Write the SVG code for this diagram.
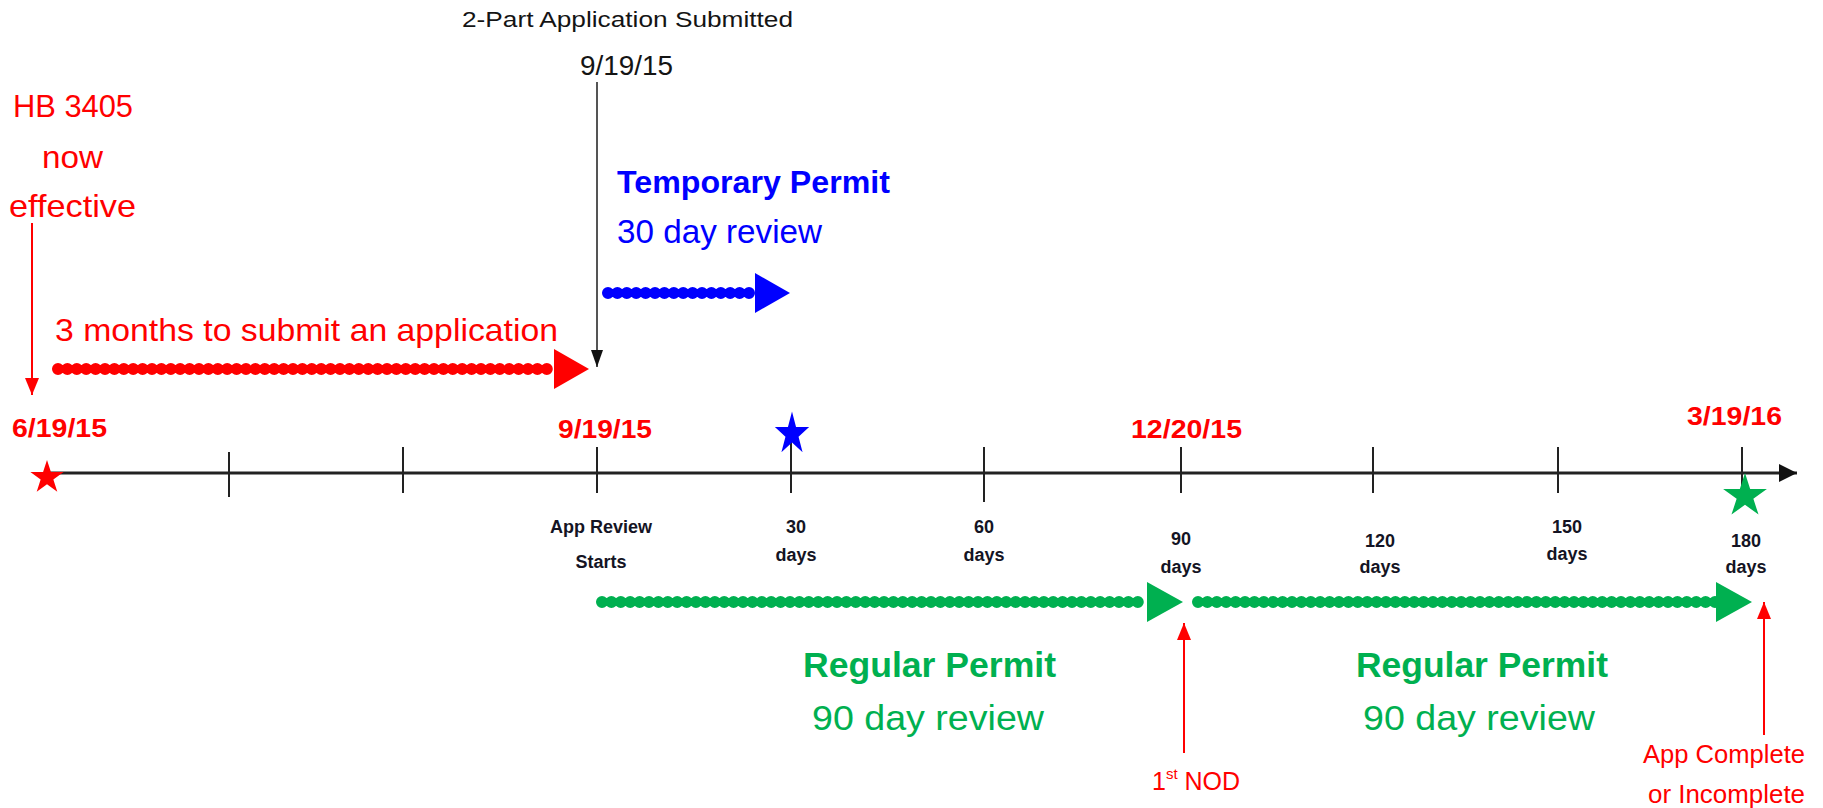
<svg xmlns="http://www.w3.org/2000/svg" width="1823" height="808" viewBox="0 0 1823 808">
<style>
text{font-family:"Liberation Sans",Arial,sans-serif}
.red{fill:#FF0000}
.blue{fill:#0000FF}
.green{fill:#00B050}
.blk{fill:#141414}
.b{font-weight:bold}
.day{font-size:18px;font-weight:bold;fill:#141424;text-anchor:middle}
.date{font-size:26px;font-weight:bold;fill:#FF0000}
.tick{stroke:#222;stroke-width:2}
.dotR{stroke:#FF0000;stroke-width:12;stroke-linecap:round;stroke-dasharray:0 9.4;fill:none}
.dotB{stroke:#0000FF;stroke-width:12;stroke-linecap:round;stroke-dasharray:0 9.4;fill:none}
.dotG{stroke:#00B050;stroke-width:12;stroke-linecap:round;stroke-dasharray:0 9.4;fill:none}
.thinR{stroke:#FF0000;stroke-width:2;fill:none}
</style>
<defs>
<path id="star" d="M0,-1 L0.2245,-0.309 L0.9511,-0.309 L0.3633,0.118 L0.5878,0.809 L0,0.382 L-0.5878,0.809 L-0.3633,0.118 L-0.9511,-0.309 L-0.2245,-0.309 Z"/>
<marker id="bigR" markerUnits="userSpaceOnUse" markerWidth="36" markerHeight="40" viewBox="0 0 36 40" refX="0" refY="20" orient="auto"><path d="M0,0 L35,20 L0,40 Z" fill="#FF0000"/></marker>
<marker id="bigB" markerUnits="userSpaceOnUse" markerWidth="36" markerHeight="40" viewBox="0 0 36 40" refX="0" refY="20" orient="auto"><path d="M0,0 L35,20 L0,40 Z" fill="#0000FF"/></marker>
<marker id="bigG" markerUnits="userSpaceOnUse" markerWidth="37" markerHeight="40" viewBox="0 0 37 40" refX="0" refY="20" orient="auto"><path d="M0,0 L36,20 L0,40 Z" fill="#00B050"/></marker>
<marker id="thinR" markerUnits="userSpaceOnUse" markerWidth="17" markerHeight="14" viewBox="0 0 17 14" refX="17" refY="7" orient="auto"><path d="M0,0 L17,7 L0,14 Z" fill="#FF0000"/></marker>
<marker id="thinK" markerUnits="userSpaceOnUse" markerWidth="17" markerHeight="12" viewBox="0 0 17 12" refX="17" refY="6" orient="auto"><path d="M0,0 L17,6 L0,12 Z" fill="#111"/></marker>
<marker id="axisK" markerUnits="userSpaceOnUse" markerWidth="18" markerHeight="18" viewBox="0 0 18 18" refX="18" refY="9" orient="auto"><path d="M0,0 L18,9 L0,18 Z" fill="#111"/></marker>
</defs>

<g id="timeline">
<line x1="47" y1="473" x2="1797" y2="473" stroke="#222" stroke-width="3" marker-end="url(#axisK)"/>
<line class="tick" x1="229" y1="452" x2="229" y2="497"/>
<line class="tick" x1="403" y1="447" x2="403" y2="493"/>
<line class="tick" x1="597" y1="447" x2="597" y2="493"/>
<line class="tick" x1="791" y1="440" x2="791" y2="493"/>
<line class="tick" x1="984" y1="447" x2="984" y2="502"/>
<line class="tick" x1="1181" y1="447" x2="1181" y2="493"/>
<line class="tick" x1="1373" y1="447" x2="1373" y2="493"/>
<line class="tick" x1="1558" y1="447" x2="1558" y2="493"/>
<line class="tick" x1="1742" y1="447" x2="1742" y2="490"/>
</g>

<g id="connectors">
<line class="thinR" x1="32" y1="223" x2="32" y2="395" marker-end="url(#thinR)"/>
<line x1="597" y1="82" x2="597" y2="367" stroke="#555" stroke-width="2" marker-end="url(#thinK)"/>
<line class="dotR" x1="58" y1="369" x2="554" y2="369" marker-end="url(#bigR)"/>
<line class="dotB" x1="608" y1="293" x2="755" y2="293" marker-end="url(#bigB)"/>
<line class="dotG" x1="602" y1="602" x2="1147" y2="602" marker-end="url(#bigG)"/>
<line class="dotG" x1="1198" y1="602" x2="1716" y2="602" marker-end="url(#bigG)"/>
<line class="thinR" x1="1184" y1="753" x2="1184" y2="623" marker-end="url(#thinR)"/>
<line class="thinR" x1="1764" y1="735" x2="1764" y2="602" marker-end="url(#thinR)"/>
</g>

<g id="star-start"><use href="#star" fill="#FF0000" transform="translate(47,477.5) scale(17.5)"/></g>
<g id="star-30"><use href="#star" fill="#0000FF" transform="translate(792,434) scale(18,22.5)"/></g>
<g id="star-180"><use href="#star" fill="#00B050" transform="translate(1745,496) scale(23)"/></g>

<g id="submitted">
<text class="blk" x="462" y="27" font-size="22" textLength="331" lengthAdjust="spacingAndGlyphs">2-Part Application Submitted</text>
<text class="blk" x="580" y="75" font-size="27" textLength="93" lengthAdjust="spacingAndGlyphs">9/19/15</text>
</g>

<g id="hb3405">
<text class="red" x="13" y="117" font-size="32" textLength="120" lengthAdjust="spacingAndGlyphs">HB 3405</text>
<text class="red" x="42" y="168" font-size="32" textLength="61" lengthAdjust="spacingAndGlyphs">now</text>
<text class="red" x="9" y="217" font-size="32" textLength="127" lengthAdjust="spacingAndGlyphs">effective</text>
</g>

<g id="three-months">
<text class="red" x="55" y="341" font-size="32" textLength="503" lengthAdjust="spacingAndGlyphs">3 months to submit an application</text>
</g>

<g id="temporary">
<text class="blue b" x="617" y="193" font-size="32" textLength="273" lengthAdjust="spacingAndGlyphs">Temporary Permit</text>
<text class="blue" x="617" y="243" font-size="32.5" textLength="205" lengthAdjust="spacingAndGlyphs">30 day review</text>
</g>

<g id="dates">
<text class="date" x="12" y="437" textLength="95" lengthAdjust="spacingAndGlyphs">6/19/15</text>
<text class="date" x="558" y="438" textLength="94" lengthAdjust="spacingAndGlyphs">9/19/15</text>
<text class="date" x="1131" y="438" textLength="111" lengthAdjust="spacingAndGlyphs">12/20/15</text>
<text class="date" x="1687" y="425" textLength="95" lengthAdjust="spacingAndGlyphs">3/19/16</text>
</g>

<g id="day-labels">
<text class="day" x="601" y="533" font-size="22.5">App Review</text>
<text class="day" x="601" y="568" font-size="22.5">Starts</text>
<text class="day" x="796" y="533">30</text>
<text class="day" x="796" y="561">days</text>
<text class="day" x="984" y="533">60</text>
<text class="day" x="984" y="561">days</text>
<text class="day" x="1181" y="545">90</text>
<text class="day" x="1181" y="573">days</text>
<text class="day" x="1380" y="547">120</text>
<text class="day" x="1380" y="573">days</text>
<text class="day" x="1567" y="533">150</text>
<text class="day" x="1567" y="560">days</text>
<text class="day" x="1746" y="547">180</text>
<text class="day" x="1746" y="573">days</text>
</g>

<g id="regular-1">
<text class="green b" x="803" y="677" font-size="35" textLength="253" lengthAdjust="spacingAndGlyphs">Regular Permit</text>
<text class="green" x="812" y="730" font-size="35" textLength="232" lengthAdjust="spacingAndGlyphs">90 day review</text>
</g>

<g id="regular-2">
<text class="green b" x="1356" y="677" font-size="35" textLength="252" lengthAdjust="spacingAndGlyphs">Regular Permit</text>
<text class="green" x="1363" y="730" font-size="35" textLength="232" lengthAdjust="spacingAndGlyphs">90 day review</text>
</g>

<g id="nod">
<text class="red" x="1152" y="790" font-size="25">1<tspan font-size="15" dy="-11">st</tspan><tspan dy="11"> NOD</tspan></text>
</g>

<g id="app-complete">
<text class="red" x="1643" y="763" font-size="25" textLength="162" lengthAdjust="spacingAndGlyphs">App Complete</text>
<text class="red" x="1648" y="803" font-size="25" textLength="157" lengthAdjust="spacingAndGlyphs">or Incomplete</text>
</g>
</svg>
